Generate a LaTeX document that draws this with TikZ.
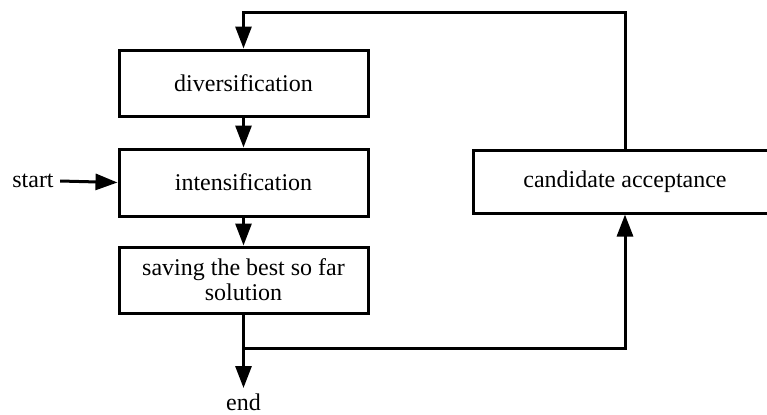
\documentclass[tikz,border=0pt]{standalone}
\usepackage{fontspec}
\setmainfont{Liberation Serif}
\usetikzlibrary{arrows.meta}
\begin{document}
\begin{tikzpicture}[x=0.5pt,y=-0.5pt,
  every node/.style={font=\fontsize{12}{12.5}\selectfont},
  box/.style={draw,line width=1.5pt,rectangle,align=center,inner sep=2pt,minimum width=124.5pt},
  conn/.style={line width=1.5pt,line join=miter},
  arr/.style={conn,-{Triangle[length=11pt,width=8pt]}}]
\useasboundingbox (0,0) rectangle (767,414);
\clip (0,0) rectangle (767,414);
\fill[white] (0,0) rectangle (767,414);
\node[box,minimum height=33pt] (div) at (243.5,83) {diversification};
\node[box,minimum height=33.5pt] (int) at (243.5,182.5) {intensification};
\node[box,minimum height=33pt] (sav) at (243.5,280) {saving the best so far\\solution};
\node[box,minimum width=152pt,minimum height=31.5pt] (cand) at (625,181.5) {candidate acceptance};
\node[inner sep=0pt] (start) at (33,181) {start};
\node[inner sep=0pt,anchor=north] (end) at (243.5,393) {end};
\coordinate (endtip) at (243.5,388);
\coordinate (tr) at (625,12);
\coordinate (tl) at (243.5,12);
\coordinate (bl) at (243.5,348);
\coordinate (br) at (625,348);
\draw[arr] (div) -- (int);
\draw[arr] (int) -- (sav);
\draw[arr] (start.east) ++(6,0) coordinate (s0) (s0) -- (int.west);
\draw[arr] (sav.south) -- (endtip);
\draw[arr] (cand.north) -- (tr) -- (tl) -- (div.north);
\draw[arr] (bl) -- (br) -- (cand.south);
\end{tikzpicture}
\end{document}
